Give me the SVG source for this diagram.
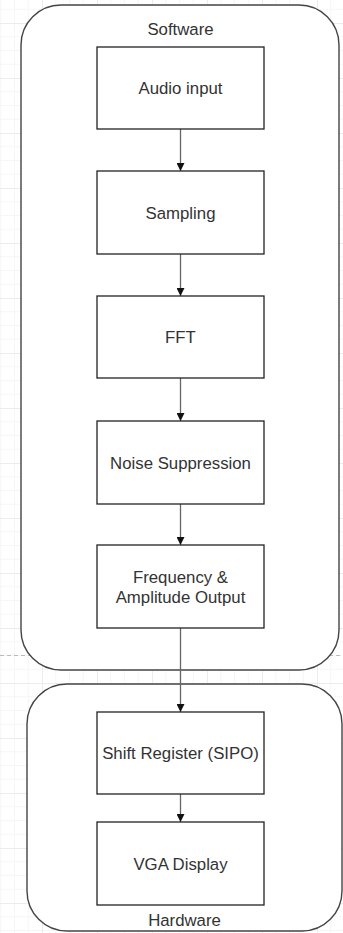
<svg xmlns="http://www.w3.org/2000/svg" width="343" height="933" viewBox="0 0 343 933">
<style>
.cont{fill:#fff;stroke:#444;stroke-width:1.4}
.box{fill:#fff;stroke:#222;stroke-width:1.3}
.lbl{font-family:"Liberation Sans",Arial,sans-serif;font-size:16.8px;fill:#333;text-anchor:middle}
.edge{stroke:#666;stroke-width:1.3;fill:none}
</style>
<defs>
<marker id="ah" viewBox="0 0 10 10" refX="10" refY="5" markerWidth="8" markerHeight="8" markerUnits="userSpaceOnUse" orient="auto">
<path d="M0,0 L10,5 L0,10 Z" fill="#111"/>
</marker>
<pattern id="grid" patternUnits="userSpaceOnUse" x="42" y="23" width="55" height="55">
<path d="M13.75,0 V55 M27.5,0 V55 M41.25,0 V55 M0,13.75 H55 M0,27.5 H55 M0,41.25 H55" stroke="#f6f6f6" stroke-width="1"/>
<path d="M0.5,0 V55 M0,0.5 H55" stroke="#ececec" stroke-width="1"/>
</pattern>
</defs>
<rect width="343" height="933" fill="#fff"/>
<rect width="343" height="933" fill="url(#grid)"/>
<line x1="0" y1="655.5" x2="343" y2="655.5" stroke="#bbb" stroke-width="1" stroke-dasharray="4,3"/>

<g id="software">
<rect class="cont" x="21" y="5" width="318" height="665" rx="40" ry="40"/>
<text class="lbl" x="180.5" y="35">Software</text>
</g>
<g id="hardware">
<rect class="cont" x="27" y="684" width="315" height="247" rx="40" ry="40"/>
<text class="lbl" x="184.5" y="926">Hardware</text>
</g>

<g id="connectors">
<line class="edge" x1="180.5" y1="129" x2="180.5" y2="171" marker-end="url(#ah)"/>
<line class="edge" x1="180.5" y1="254" x2="180.5" y2="296" marker-end="url(#ah)"/>
<line class="edge" x1="180.5" y1="378" x2="180.5" y2="421" marker-end="url(#ah)"/>
<line class="edge" x1="180.5" y1="504" x2="180.5" y2="545" marker-end="url(#ah)"/>
<line class="edge" x1="180.5" y1="628" x2="180.5" y2="712" marker-end="url(#ah)"/>
<line class="edge" x1="180.5" y1="794" x2="180.5" y2="822" marker-end="url(#ah)"/>
</g>

<g id="audio-input">
<rect class="box" x="97" y="47" width="167" height="82"/>
<text class="lbl" x="180.5" y="94">Audio input</text>
</g>
<g id="sampling">
<rect class="box" x="97" y="171" width="167" height="83"/>
<text class="lbl" x="180.5" y="218.5">Sampling</text>
</g>
<g id="fft">
<rect class="box" x="97" y="296" width="167" height="82"/>
<text class="lbl" x="180.5" y="343">FFT</text>
</g>
<g id="noise-suppression">
<rect class="box" x="97" y="421" width="167" height="83"/>
<text class="lbl" x="180.5" y="468.5">Noise Suppression</text>
</g>
<g id="freq-amp-output">
<rect class="box" x="97" y="545" width="167" height="83"/>
<text class="lbl" x="180.5" y="582.5">Frequency &amp;</text>
<text class="lbl" x="180.5" y="602.5">Amplitude Output</text>
</g>
<g id="shift-register">
<rect class="box" x="97" y="712" width="167" height="82"/>
<text class="lbl" x="180.5" y="759">Shift Register (SIPO)</text>
</g>
<g id="vga-display">
<rect class="box" x="97" y="822" width="167" height="83"/>
<text class="lbl" x="180.5" y="869.5">VGA Display</text>
</g>
</svg>
